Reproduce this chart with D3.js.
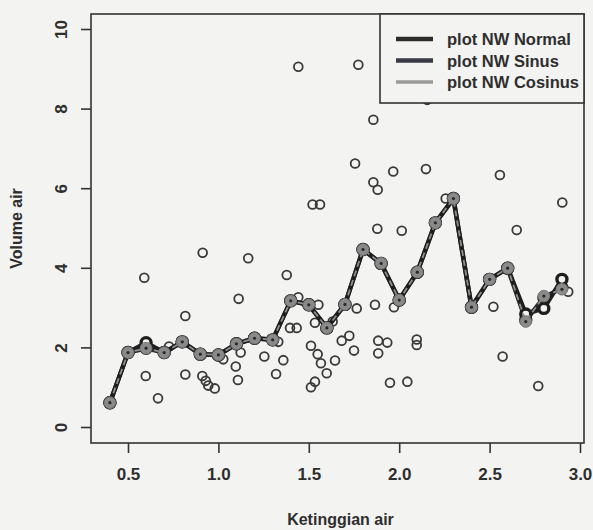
<!DOCTYPE html>
<html><head><meta charset="utf-8">
<script src="https://cdn.jsdelivr.net/npm/d3@7"></script>
<style>
html,body{margin:0;padding:0;background:#f3f3f1;}
svg{display:block;}
text{font-family:"Liberation Sans",Arial,sans-serif;fill:#2e2e2e;font-weight:bold;}
</style></head>
<body>
<script>
// ---- data ----
const scatterX = [1.442,1.774,2.155,1.857,1.756,1.967,2.148,1.857,1.881,1.521,1.562,2.557,2.902,2.257,1.879,2.014,2.650,0.913,1.165,0.590,1.112,0.817,1.378,0.727,1.123,1.027,0.598,0.817,0.911,0.930,0.944,0.980,1.096,1.108,0.666,1.396,1.433,1.331,1.254,1.359,1.319,1.442,1.553,1.534,1.632,1.765,1.866,1.971,1.512,1.549,1.567,1.645,1.599,1.534,1.512,1.682,1.724,1.750,1.884,1.934,1.884,2.097,2.097,1.949,2.045,2.521,2.572,2.769,2.935];
const scatterY = [9.05,9.10,8.22,7.72,6.62,6.42,6.48,6.15,5.96,5.59,5.59,6.33,5.64,5.74,4.98,4.93,4.95,4.38,4.24,3.75,3.22,2.79,3.82,2.02,1.87,1.70,1.28,1.32,1.28,1.16,1.04,0.97,1.52,1.18,0.72,2.49,2.49,2.14,1.77,1.68,1.33,3.26,3.07,2.62,2.65,2.98,3.07,3.01,2.04,1.83,1.60,1.67,1.35,1.14,1.00,2.17,2.29,1.92,2.17,2.12,1.85,2.20,2.06,1.11,1.14,3.02,1.77,1.03,3.40];
const fitX = [0.4,0.5,0.6,0.7,0.8,0.9,1.0,1.1,1.2,1.3,1.4,1.5,1.6,1.7,1.8,1.9,2.0,2.1,2.2,2.3,2.4,2.5,2.6,2.7,2.8,2.9];
const nwNormal  = [0.61,1.87,1.98,1.87,2.14,1.83,1.81,2.09,2.23,2.19,3.17,3.07,2.49,3.08,4.46,4.11,3.19,3.89,5.13,5.74,3.01,3.71,3.99,2.68,3.25,3.50];
const nwSinus   = [0.61,1.87,2.12,1.87,2.14,1.83,1.81,2.09,2.23,2.19,3.17,3.07,2.49,3.08,4.46,4.11,3.19,3.89,5.13,5.74,3.01,3.71,3.99,2.84,2.98,3.71];
const nwCosinus = [0.61,1.87,1.98,1.87,2.14,1.83,1.81,2.09,2.23,2.19,3.17,3.07,2.49,3.08,4.46,4.11,3.19,3.89,5.13,5.74,3.01,3.71,3.99,2.65,3.29,3.46];
const xTicks = [0.5,1.0,1.5,2.0,2.5,3.0];
const yTicks = [0,2,4,6,8,10];
const legendLabels = ["plot NW Normal","plot NW Sinus","plot NW Cosinus"];
const xLabel = "Ketinggian air";
const yLabel = "Volume air";

// ---- layout ----
const W = 593, H = 530;
const box = {l:91, t:14, r:584, b:443};
const x = d3.scaleLinear().domain([0.5,3.0]).range([128,580]);
const y = d3.scaleLinear().domain([0,10]).range([427,29]);
const FONT = "Liberation Sans, Arial, sans-serif";

const svg = d3.select("body").append("svg").attr("width",W).attr("height",H);

// scatter
svg.append("g").selectAll("circle").data(scatterX.map((d,i)=>[d,scatterY[i]])).join("circle")
  .attr("cx",d=>x(d[0])).attr("cy",d=>y(d[1])).attr("r",4.4)
  .attr("fill","none").attr("stroke","#3a3a3a").attr("stroke-width",1.8);

const line = d3.line().x((d,i)=>x(fitX[i])).y(d=>y(d));

function darkSeries(vals, col){
  svg.append("path").attr("d",line(vals)).attr("fill","none").attr("stroke",col)
    .attr("stroke-width",4.5).attr("stroke-linejoin","round");
  svg.append("g").selectAll("circle").data(vals).join("circle")
    .attr("cx",(d,i)=>x(fitX[i])).attr("cy",d=>y(d)).attr("r",5)
    .attr("fill","#f3f3f1").attr("stroke",col).attr("stroke-width",3.4);
}
darkSeries(nwNormal,"#2c2c2c");
darkSeries(nwSinus,"#1e1e1e");

// cosinus (light grey, on top)
svg.append("path").attr("d",line(nwCosinus)).attr("fill","none").attr("stroke","#8f8f8f")
  .attr("stroke-width",1.8).attr("stroke-dasharray","6,4");
svg.append("g").selectAll("circle").data(nwCosinus).join("circle")
  .attr("cx",(d,i)=>x(fitX[i])).attr("cy",d=>y(d)).attr("r",5.8)
  .attr("fill","#8a8a8a").attr("stroke","#7a7a7a").attr("stroke-width",1);
svg.append("g").selectAll("circle").data(nwCosinus).join("circle")
  .attr("cx",(d,i)=>x(fitX[i])).attr("cy",d=>y(d)).attr("r",1.6)
  .attr("fill","#2a2a2a");

// box
svg.append("rect").attr("x",box.l).attr("y",box.t).attr("width",box.r-box.l).attr("height",box.b-box.t)
  .attr("fill","none").attr("stroke","#333").attr("stroke-width",1.6);

// x axis
const gx = svg.append("g").attr("transform",`translate(0,${box.b})`)
  .call(d3.axisBottom(x).tickValues(xTicks).tickSize(10).tickPadding(15).tickFormat(d3.format(".1f")));
gx.select(".domain").remove();
gx.selectAll("line").attr("stroke","#333").attr("stroke-width",1.6);
gx.selectAll("text").attr("font-size",17).attr("fill","#2e2e2e").attr("font-family",FONT).attr("font-weight","bold");

// y axis
const gy = svg.append("g").attr("transform",`translate(${box.l},0)`)
  .call(d3.axisLeft(y).tickValues(yTicks).tickSize(10).tickFormat(d3.format("d")));
gy.select(".domain").remove();
gy.selectAll("line").attr("stroke","#333").attr("stroke-width",1.6);
gy.selectAll("text").attr("font-size",17).attr("fill","#2e2e2e")
  .attr("font-family",FONT).attr("font-weight","bold")
  .attr("text-anchor","middle").attr("x",0).attr("dy",0)
  .attr("transform","translate(-24,0) rotate(-90)");

// axis titles
svg.append("text").attr("x",(box.l+box.r)/2+3).attr("y",525).attr("text-anchor","middle")
  .attr("font-size",16).text(xLabel);
svg.append("text").attr("transform",`translate(22,${(box.t+box.b)/2}) rotate(-90)`)
  .attr("text-anchor","middle").attr("font-size",16).text(yLabel);

// legend
const lg = svg.append("g");
lg.append("rect").attr("x",380).attr("y",box.t).attr("width",box.r-380).attr("height",89)
  .attr("fill","#f3f3f1").attr("stroke","#333").attr("stroke-width",1.6);
const legCols = ["#2c2c2c","#3a3a44","#9a9a9a"];
const legW = [4.5,4.5,3.5];
legendLabels.forEach((t,i)=>{
  const yy = 39 + i*21.5;
  lg.append("line").attr("x1",396).attr("x2",433).attr("y1",yy).attr("y2",yy)
    .attr("stroke",legCols[i]).attr("stroke-width",legW[i]);
  lg.append("text").attr("x",447).attr("y",yy+6).attr("font-size",16.5).text(t);
});
</script>
</body></html>
